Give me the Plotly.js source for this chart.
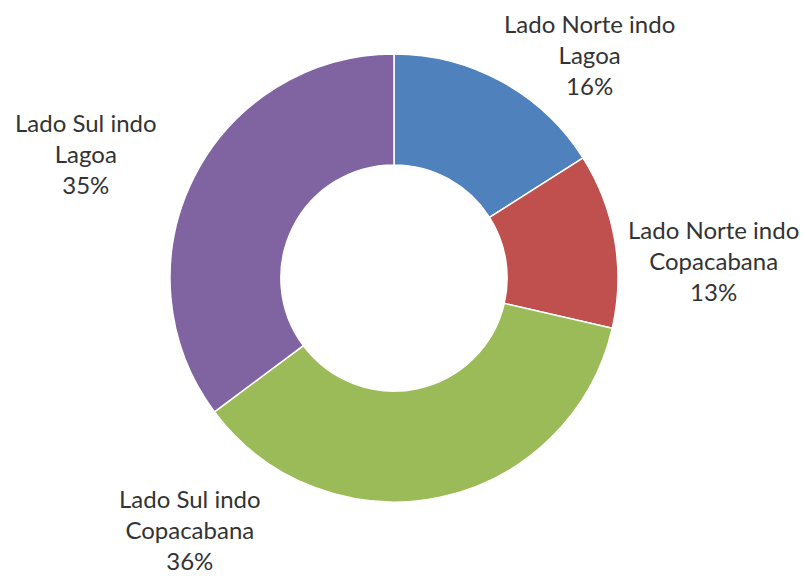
<!DOCTYPE html>
<html>
<head>
<meta charset="utf-8">
<script src="https://cdn.plot.ly/plotly-3.0.1.min.js"></script>
<style>html,body{margin:0;padding:0;background:#fff;}#chart{width:806px;height:578px;}</style>
</head>
<body>
<div id="chart"></div>
<script>
const categories = ["Lado Norte indo Lagoa", "Lado Norte indo Copacabana", "Lado Sul indo Copacabana", "Lado Sul indo Lagoa"];
const labelLines = [["Lado Norte indo", "Lagoa"], ["Lado Norte indo", "Copacabana"], ["Lado Sul indo", "Copacabana"], ["Lado Sul indo", "Lagoa"]];
const values = [16.0, 12.6, 36.2, 35.2];
const colors = ["#4F81BD", "#C0504D", "#9BBB59", "#8064A2"];
// label anchor positions (paper coords)
const labelX = [0.732, 0.885, 0.236, 0.107];
const labelY = [0.905, 0.550, 0.084, 0.734];

const total = values.reduce((a, b) => a + b, 0);
const W = 806, H = 578;
const cx = 394, cy = 278, R = 224;

const trace = {
  type: "pie",
  labels: categories,
  values: values,
  hole: 0.505,
  sort: false,
  direction: "clockwise",
  rotation: 0,
  textinfo: "none",
  hoverinfo: "label+percent",
  marker: { colors: colors, line: { color: "#ffffff", width: 1.5 } },
  domain: { x: [(cx - R) / W, (cx + R) / W], y: [(H - cy - R) / H, (H - cy + R) / H] },
  showlegend: false
};

const annotations = categories.map((c, i) => ({
  text: labelLines[i].join("<br>") + "<br>" + Math.round(values[i] / total * 100) + "%",
  x: labelX[i], y: labelY[i], xref: "paper", yref: "paper",
  xanchor: "center", yanchor: "middle", showarrow: false, align: "center",
  font: { family: "Lato, 'Open Sans', sans-serif", size: 24, color: "#333333" }
}));

Plotly.newPlot("chart", [trace], {
  width: W, height: H,
  margin: { l: 0, r: 0, t: 0, b: 0 },
  paper_bgcolor: "#ffffff",
  annotations: annotations
}, { displayModeBar: false, staticPlot: true });
</script>
</body>
</html>
